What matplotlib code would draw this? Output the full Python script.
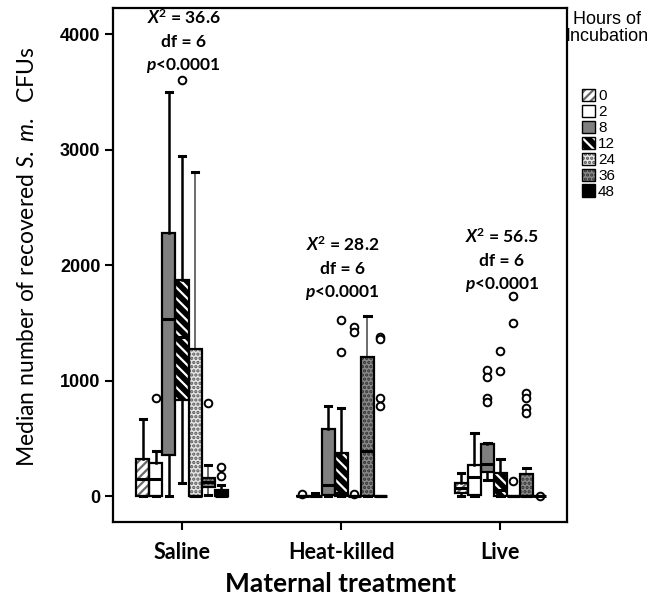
import matplotlib
matplotlib.use("Agg")
import matplotlib.pyplot as plt
from matplotlib.patches import PathPatch, Patch
import numpy as np

plt.rcParams["mathtext.fontset"] = "custom"
plt.rcParams["mathtext.rm"] = "Lato"
plt.rcParams["mathtext.it"] = "Lato:italic"
plt.rcParams["mathtext.bf"] = "Lato:bold"
plt.rcParams["mathtext.bfit"] = "Lato:bold:italic"
plt.rcParams["hatch.linewidth"] = 1.6

# ------------------------------------------------------------------ data
groups = ["Saline", "Heat-killed", "Live"]
hours = ["0", "2", "8", "12", "24", "36", "48"]

# per group, one value per hour of incubation
q1 = [
    [0, 0, 355, 830, 0, 80, 0],
    [0, 0, 10, 0, 0, 0, 0],
    [25, 10, 210, 0, 0, 0, 0],
]
med = [
    [145, 145, 1535, 1380, 0, 120, 0],
    [0, 0, 100, 30, 0, 390, 0],
    [70, 165, 280, 50, 0, 0, 0],
]
q3 = [
    [320, 285, 2280, 1870, 1275, 155, 50],
    [0, 0, 580, 370, 0, 1205, 0],
    [110, 270, 450, 200, 0, 190, 0],
]
whislo = [
    [0, 0, 0, 110, 0, 10, 0],
    [0, 0, 0, 0, 0, 0, 0],
    [0, 0, 140, 0, 0, 0, 0],
]
whishi = [
    [667, 390, 3500, 2945, 2810, 270, 95],
    [0, 30, 780, 760, 0, 1560, 0],
    [200, 545, 460, 320, 0, 245, 0],
]
fliers = [
    [[], [850], [], [3600], [], [805], [250, 170]],
    [[15], [], [], [1525, 1250], [1465, 1420, 15], [], [1375, 1365, 850, 780]],
    [[], [], [1090, 1030, 850, 815], [1255, 1085], [1735, 1500, 130], [890, 850, 760, 720], [5]],
]

chi2 = ["36.6", "28.2", "56.5"]
dof = ["6", "6", "6"]
pval = ["p<0.0001", "p<0.0001", "p<0.0001"]
label_top = [4140, 2175, 2245]

# --------------------------------------------------------------- styles
face = ["white", "white", "#7f7f7f", "black", "#e6e6e6", "#8a8a8a", "black"]
hatch = ["////", None, None, "\\\\\\", "....", "....", None]
hatch_col = ["#6a6a6a", "black", "black", "white", "#555555", "#333333", "black"]

w = 0.082

fig = plt.figure(figsize=(6.49, 5.96), dpi=100)
ax = fig.add_axes([0.174, 0.124, 0.700, 0.863])

for g in range(len(groups)):
    stats = []
    for i in range(len(hours)):
        stats.append(dict(q1=q1[g][i], med=med[g][i], q3=q3[g][i],
                          whislo=whislo[g][i], whishi=whishi[g][i],
                          fliers=fliers[g][i]))
    pos = [g + (i - 3) * w for i in range(len(hours))]
    bp = ax.bxp(stats, positions=pos, widths=w, capwidths=w * 0.5,
                patch_artist=True, manage_ticks=False,
                whiskerprops=dict(color="black", lw=1.8),
                capprops=dict(color="black", lw=2.2),
                medianprops=dict(color="black", lw=2.2, solid_capstyle="butt"),
                flierprops=dict(marker="o", markersize=5.5, markerfacecolor="white",
                                markeredgecolor="black", markeredgewidth=1.4))
    for i, box in enumerate(bp["boxes"]):
        box.set_facecolor(face[i])
        box.set_edgecolor(hatch_col[i])
        box.set_linewidth(0)
        if hatch[i]:
            box.set_hatch(hatch[i])
        ax.add_patch(PathPatch(box.get_path(), fill=False, ec="black", lw=1.6,
                               zorder=box.get_zorder() + 0.1))
    for i in (4, 5):
        for wl in bp["whiskers"][2 * i:2 * i + 2]:
            wl.set_linewidth(1.1)
            wl.set_color("#444444")
    for m in bp["medians"]:
        m.set_zorder(3)

    tx = g + 0.01
    ax.text(tx, label_top[g], r"$\mathbfit{X}^{\mathbf{2}}$ = " + chi2[g], ha="center", va="center",
            fontsize=12.5, fontweight="bold", family="Lato")
    ax.text(tx, label_top[g] - 205, "df = " + dof[g], ha="center", va="center",
            fontsize=12.5, fontweight="bold", family="Lato")
    ax.text(tx, label_top[g] - 410, r"$\mathbfit{p}$" + pval[g][1:], ha="center", va="center",
            fontsize=12.5, fontweight="bold", family="Lato")

ax.set_xlim(-0.434, 2.42)
ax.set_ylim(-225, 4230)
ax.set_xticks(range(len(groups)))
ax.set_xticklabels(groups, fontsize=15.5, fontweight="bold", family="Lato")
ax.set_yticks([0, 1000, 2000, 3000, 4000])
ax.set_yticklabels(["0", "1000", "2000", "3000", "4000"], fontsize=13,
                   fontweight="bold", family="Liberation Sans")
ax.tick_params(direction="out", length=6, width=1.5, pad=3)
ax.tick_params(axis="x", pad=8)
for s in ax.spines.values():
    s.set_linewidth(1.6)

ax.set_ylabel(r"Median number of recovered $\mathit{S.\ m.}$  CFUs", fontsize=16.5,
              family="Lato")
ax.yaxis.set_label_coords(-0.165, 0.515)
ax.set_xlabel("Maternal treatment", fontsize=19, fontweight="bold", family="Lato", labelpad=7)

# legend
handles = []
for i in range(len(hours)):
    p1 = Patch(facecolor=face[i], edgecolor=hatch_col[i], hatch=hatch[i], lw=0)
    p2 = Patch(fill=False, edgecolor="black", lw=1.0)
    handles.append((p1, p2))
fig.legend(handles, hours, loc="upper left", bbox_to_anchor=(582 / 649, 1 - 89 / 596),
           frameon=False, prop=dict(family="Liberation Sans", size=11),
           handlelength=0.85, handleheight=0.85, handletextpad=0.2,
           labelspacing=0.1, borderpad=0, borderaxespad=0)
fig.text(607 / 649, 1 - 28 / 596, "Hours of\nIncubation", ha="center", va="center",
         fontsize=13, family="Liberation Sans", linespacing=1.0)

fig.savefig("out.png", dpi=100)
